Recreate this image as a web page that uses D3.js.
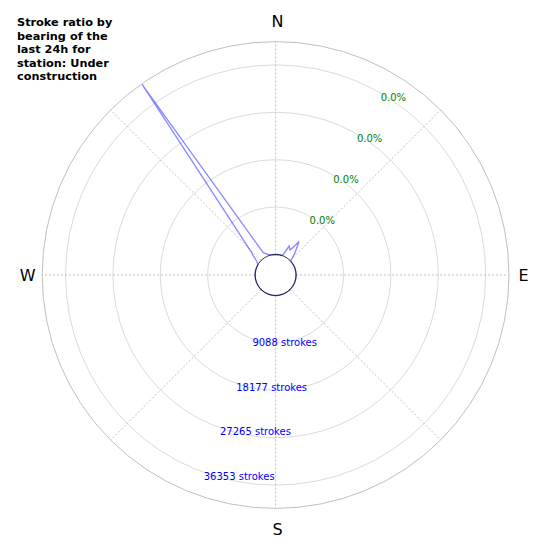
<!DOCTYPE html>
<html>
<head>
<meta charset="utf-8">
<script src="https://cdn.jsdelivr.net/npm/d3@7"></script>
<style>
  body { margin: 0; background: #fff; }
  svg { display: block; font-family: "DejaVu Sans", sans-serif; }
</style>
</head>
<body>
<svg id="chart" width="550" height="550"></svg>
<script>
// stroke counts by bearing (degrees, clockwise from north)
const bearings = [0, 10, 18, 21, 25, 30, 32, 35, 42, 47, 60, 70, 80, 90, 100, 110, 120, 130, 140, 150,
    160, 170, 180, 190, 200, 210, 220, 230, 240, 250, 260, 270, 280, 290, 300, 306, 311, 313, 325, 331, 340, 350];
const strokes = [0, 0, 0, 400, 2200, 1600, 2200, 3900, 1500, 0, 0, 0, 0, 0, 0, 0, 0, 0, 0, 0,
    0, 0, 0, 0, 0, 0, 0, 0, 0, 0, 0, 0, 0, 0, 0, 500, 1800, 2300, 40700, 950, 250, 0];

const ringValues = [9088, 18177, 27265, 36353];
const ringPercent = ['0.0%', '0.0%', '0.0%', '0.0%'];
const rMax = 40820;
const compass = [
    { label: 'N', bearing: 0 },
    { label: 'E', bearing: 90 },
    { label: 'S', bearing: 180 },
    { label: 'W', bearing: 270 }
];
const gridBearings = [0, 45, 90, 135, 180, 225, 270, 315];
const titleLines = ['Stroke ratio by', 'bearing of the', 'last 24h for', 'station: Under', 'construction'];

const svg = d3.select('#chart');
const cx = 275.6;
const cy = 275;

const r = d3.scaleLinear().domain([0, rMax]).range([20.5, 233.4]);
const rad = deg => deg * Math.PI / 180;
const px = (deg, radius) => cx + radius * Math.sin(rad(deg));
const py = (deg, radius) => cy - radius * Math.cos(rad(deg));

const g = svg.append('g');

// grid rings
g.selectAll('circle.ring')
    .data(ringValues)
    .enter()
    .append('circle')
    .attr('class', 'ring')
    .attr('cx', cx)
    .attr('cy', cy)
    .attr('r', d => r(d))
    .attr('fill', 'none')
    .attr('stroke', '#d0d0d0')
    .attr('stroke-width', 0.8);

// outer edge
g.append('circle')
    .attr('cx', cx)
    .attr('cy', cy)
    .attr('r', r(rMax))
    .attr('fill', 'none')
    .attr('stroke', '#b8b8b8')
    .attr('stroke-width', 0.9);

// radial grid lines
g.selectAll('line.spoke')
    .data(gridBearings)
    .enter()
    .append('line')
    .attr('class', 'spoke')
    .attr('x1', d => px(d, r(0)))
    .attr('y1', d => py(d, r(0)))
    .attr('x2', d => px(d, r(rMax)))
    .attr('y2', d => py(d, r(rMax)))
    .attr('stroke', '#b0b0b0')
    .attr('stroke-width', 0.8)
    .attr('stroke-dasharray', '2,2');

// the stroke line
const data = bearings.map((b, i) => ({ bearing: b, value: strokes[i] }));
const line = d3.lineRadial()
    .angle(d => rad(d.bearing))
    .radius(d => r(d.value))
    .curve(d3.curveLinearClosed);

g.append('path')
    .datum(data)
    .attr('transform', `translate(${cx},${cy})`)
    .attr('d', line)
    .attr('fill', 'none')
    .attr('stroke', '#0000ff')
    .attr('stroke-opacity', 0.45)
    .attr('stroke-width', 1.4)
    .attr('stroke-linejoin', 'miter');

// inner hole, drawn over the line
g.append('circle')
    .attr('cx', cx)
    .attr('cy', cy)
    .attr('r', r(0))
    .attr('fill', 'none')
    .attr('stroke', '#000')
    .attr('stroke-width', 0.8);

// percentage labels along bearing 30
g.selectAll('text.pct')
    .data(ringValues)
    .enter()
    .append('text')
    .attr('class', 'pct')
    .attr('x', d => px(30, r(d)))
    .attr('y', d => py(30, r(d)) + 7.5)
    .attr('font-size', 10)
    .attr('fill', 'green')
    .text((d, i) => ringPercent[i]);

// stroke count labels along bearing 200
g.selectAll('text.cnt')
    .data(ringValues)
    .enter()
    .append('text')
    .attr('class', 'cnt')
    .attr('x', d => px(200, r(d)))
    .attr('y', d => py(200, r(d)) + 7.5)
    .attr('font-size', 10)
    .attr('fill', 'blue')
    .text(d => `${d} strokes`);

// compass labels
g.selectAll('text.compass')
    .data(compass)
    .enter()
    .append('text')
    .attr('class', 'compass')
    .attr('x', d => px(d.bearing, d.bearing % 180 === 0 ? 254 : 248) + (d.bearing % 180 === 0 ? 2 : 0))
    .attr('y', d => py(d.bearing, d.bearing % 180 === 0 ? 254 : 248))
    .attr('text-anchor', 'middle')
    .attr('dominant-baseline', 'central')
    .attr('font-size', 16)
    .attr('fill', '#000')
    .text(d => d.label);

// title
svg.append('text')
    .attr('x', 17)
    .attr('y', 26)
    .attr('font-size', 11.3)
    .attr('font-weight', 'bold')
    .attr('fill', '#000')
    .selectAll('tspan')
    .data(titleLines)
    .enter()
    .append('tspan')
    .attr('x', 17)
    .attr('dy', (d, i) => i === 0 ? 0 : 13.6)
    .text(d => d);
</script>
</body>
</html>
